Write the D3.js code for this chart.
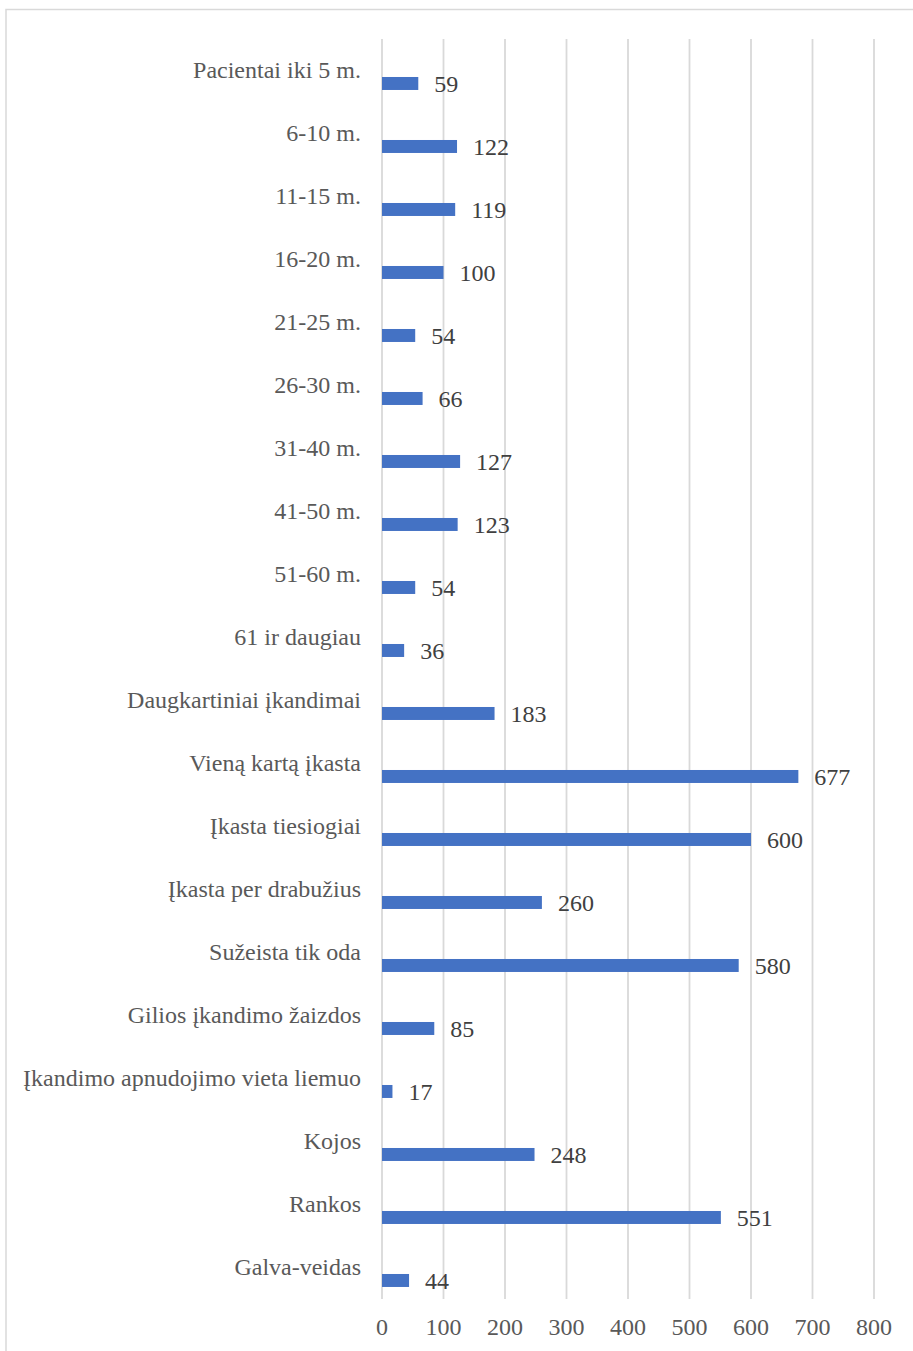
<!DOCTYPE html>
<html><head><meta charset="utf-8">
<script src="https://cdn.jsdelivr.net/npm/d3@7"></script>
<style>html,body{margin:0;padding:0;background:#fff;}svg{display:block;}</style>
</head><body>
<svg id="chart" width="913" height="1351"></svg>
<script>
const categories = ["Pacientai iki 5 m.","6-10 m.","11-15 m.","16-20 m.","21-25 m.","26-30 m.","31-40 m.","41-50 m.","51-60 m.","61 ir daugiau","Daugkartiniai įkandimai","Vieną kartą įkasta","Įkasta tiesiogiai","Įkasta per drabužius","Sužeista tik oda","Gilios įkandimo žaizdos","Įkandimo apnudojimo vieta liemuo","Kojos","Rankos","Galva-veidas"];
const values = [59,122,119,100,54,66,127,123,54,36,183,677,600,260,580,85,17,248,551,44];
const ticks = [0,100,200,300,400,500,600,700,800];

const svg = d3.select("#chart");
const font = "'Liberation Serif','Times New Roman',serif";
const textColor = "#595959";

// frame
svg.append("rect").attr("x",6).attr("y",9.5).attr("width",920).attr("height",1360)
  .attr("fill","#fff").attr("stroke","#d9d9d9").attr("stroke-width",1.5);

const x = d3.scaleLinear().domain([0,800]).range([382,874]);
const y = d3.scaleBand().domain(categories).range([39,1299]).padding(0);
const bw = y.bandwidth();

// gridlines
svg.append("g").selectAll("line").data(ticks).join("line")
  .attr("x1",d=>x(d)).attr("x2",d=>x(d)).attr("y1",39).attr("y2",1299)
  .attr("stroke","#d9d9d9").attr("stroke-width",1.8);

// tick labels
svg.append("g").selectAll("text").data(ticks).join("text")
  .attr("x",d=>x(d)).attr("y",1335).attr("text-anchor","middle")
  .attr("font-family",font).attr("font-size",24).attr("fill",textColor)
  .text(d=>d);

const barTop = bw*0.603, barH = bw*0.206;

// bars
svg.append("g").selectAll("rect").data(categories).join("rect")
  .attr("x",x(0)).attr("y",d=>y(d)+barTop)
  .attr("width",(d,i)=>x(values[i])-x(0)).attr("height",barH)
  .attr("fill","#4472C4");

// category labels
svg.append("g").selectAll("text").data(categories).join("text")
  .attr("x",361).attr("y",d=>y(d)+barTop+1).attr("text-anchor","end")
  .attr("font-family",font).attr("font-size",24).attr("fill",textColor)
  .text(d=>d);

// value labels
svg.append("g").selectAll("text").data(categories).join("text")
  .attr("x",(d,i)=>x(values[i])+16).attr("y",d=>y(d)+barTop+barH+2)
  .attr("font-family",font).attr("font-size",24).attr("fill","#404040")
  .text((d,i)=>values[i]);
</script>
</body></html>
